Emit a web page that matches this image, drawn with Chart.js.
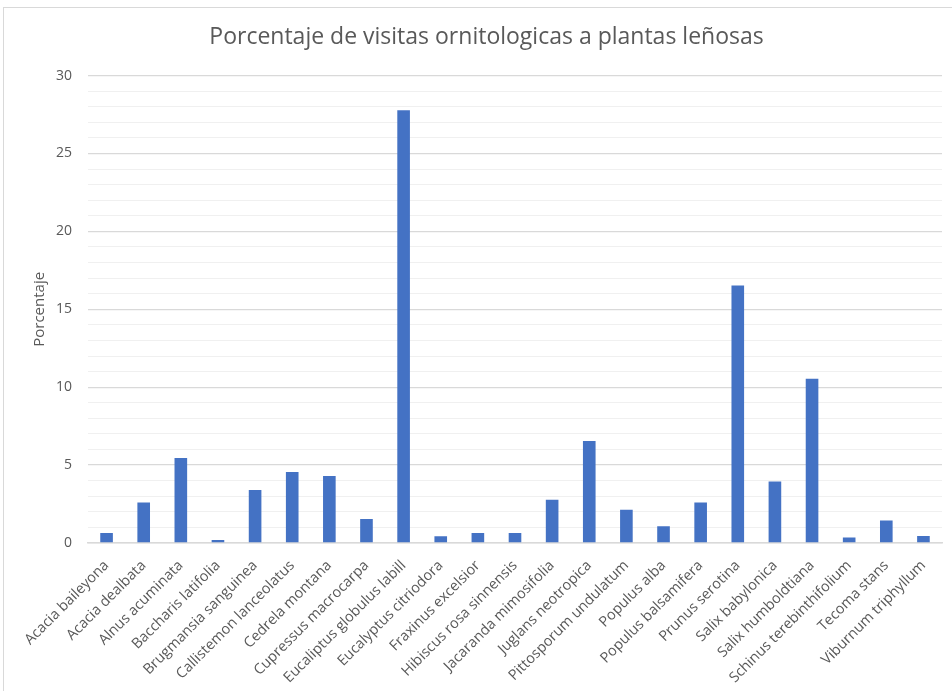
<!DOCTYPE html>
<html>
<head>
<meta charset="utf-8">
<script src="https://cdn.jsdelivr.net/npm/chart.js@4.4.1/dist/chart.umd.min.js"></script>
<style>
  html, body { margin: 0; padding: 0; background: #fff; }
  #wrap { position: relative; width: 952px; height: 691px; overflow: hidden; }
  #frame { position: absolute; left: 3px; top: 7px; width: 970px; height: 710px;
           border: 1.5px solid #d9d9d9; pointer-events: none; }
</style>
</head>
<body>
<div id="wrap">
  <canvas id="chart" width="952" height="691"></canvas>
  <div id="frame"></div>
</div>
<script>
// especies y porcentaje de visitas
const species = [
    "Acacia baileyona", "Acacia dealbata", "Alnus acuminata", "Baccharis latifolia",
    "Brugmansia sanguinea", "Callistemon lanceolatus", "Cedrela montana",
    "Cupressus macrocarpa", "Eucaliptus globulus labill", "Eucalyptus citriodora",
    "Fraxinus excelsior", "Hibiscus rosa sinnensis", "Jacaranda mimosifolia",
    "Juglans neotropica", "Pittosporum undulatum", "Populus alba",
    "Populus balsamifera", "Prunus serotina", "Salix babylonica",
    "Salix humboldtiana", "Schinus terebinthifolium", "Tecoma stans", "Viburnum triphyllum"
];
const visits = [
    0.64, 2.6, 5.45, 0.19, 3.4, 4.55, 4.3, 1.54, 27.77, 0.43,
    0.64, 0.64, 2.78, 6.54, 2.14, 1.07, 2.6, 16.52, 3.95, 10.54,
    0.36, 1.45, 0.45
];
const yTicks = [0, 5, 10, 15, 20, 25, 30];

const textColor = "#595959";
const font = "'Open Sans', 'Liberation Sans', sans-serif";

const ctx = document.getElementById("chart").getContext("2d");

new Chart(ctx, {
    type: "bar",
    data: {
        labels: species,
        datasets: [{
            label: "Porcentaje",
            data: visits,
            backgroundColor: "#4472c4",
            borderWidth: 0,
            categoryPercentage: 1,
            barPercentage: 0.34
        }]
    },
    options: {
        responsive: false,
        animation: false,
        layout: { padding: { left: 31, right: 10, top: 0, bottom: 0 } },
        plugins: {
            legend: { display: false },
            tooltip: { enabled: false },
            title: {
                display: true,
                text: "Porcentaje de visitas ornitologicas a plantas leñosas",
                color: textColor,
                font: { family: font, size: 23, weight: "normal" },
                padding: { top: 24, bottom: 24 }
            }
        },
        scales: {
            x: {
                grid: { display: false },
                border: { color: "#d9d9d9", width: 1.5 },
                ticks: {
                    color: textColor,
                    font: { family: font, size: 14.5 },
                    minRotation: 45,
                    maxRotation: 45,
                    autoSkip: false,
                    padding: 6
                },
                afterFit: (scale) => { scale.height = 148; }
            },
            y: {
                min: yTicks[0],
                max: yTicks[yTicks.length - 1],
                border: { display: false },
                grid: {
                    drawTicks: false,
                    // major lines every 5, faint minor lines every 1
                    color: (c) => (c.tick.value % 5 === 0 ? "#d9d9d9" : "#f0f0f0"),
                    lineWidth: (c) => (c.tick.value % 5 === 0 ? 1.3 : 1)
                },
                ticks: {
                    stepSize: 1,
                    autoSkip: false,
                    color: textColor,
                    font: { family: font, size: 14 },
                    padding: 16,
                    callback: (v) => (yTicks.includes(v) ? v : "")
                },
                title: {
                    display: true,
                    text: "Porcentaje",
                    color: textColor,
                    font: { family: font, size: 15 },
                    padding: 0
                },
                afterFit: (scale) => { scale.width = 57; }
            }
        }
    }
});
</script>
</body>
</html>
